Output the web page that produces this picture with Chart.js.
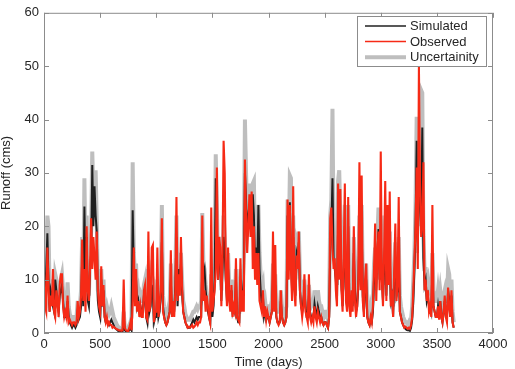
<!DOCTYPE html>
<html>
<head>
<meta charset="utf-8">
<script src="https://cdn.jsdelivr.net/npm/chart.js@4"></script>
<style>
html, body { margin: 0; padding: 0; background: #fff; }
#wrap { width: 515px; height: 369px; }
</style>
</head>
<body>
<div id="wrap"><canvas id="runoff-chart" width="515" height="369"></canvas></div>
<script>
// one value every 10 days, day 0 .. 3650
const stepDays = 10

const observed = [
    12, 5, 4, 16, 9, 4, 7, 5, 12, 4,
    3, 8, 6, 3, 9, 11, 11, 5, 3, 4,
    3, 7, 2, 2.5, 2, 1.5, 2, 2, 1.5, 2,
    6, 3, 4, 7, 17.5, 6, 12, 4, 20, 8,
    6, 12, 21.5, 12, 18, 14, 10, 19, 8, 5,
    4, 12.5, 5, 9, 3, 2, 3, 1.5, 2, 1.5,
    1.5, 1, 1.2, 1, 0.8, 0.7, 0.6, 0.5, 0.5, 0.4,
    0.5, 10, 1, 0.5, 0.4, 0.4, 1, 2, 0.5, 6,
    16, 5, 12, 4, 6, 3, 5, 3, 3, 8,
    9, 3, 2.5, 19, 4, 6, 16, 16.5, 2, 4,
    4, 16, 3, 5, 8, 21.5, 4, 3, 2, 1.5,
    2, 3, 4, 15.5, 3, 6, 3, 8, 25.5, 6,
    11, 7, 18, 9, 4, 3, 2, 1.5, 1, 1.2,
    1, 1.2, 1.5, 1, 1.2, 1.5, 2, 1.5, 2, 2,
    3, 22, 6, 8, 4, 7, 5, 3, 2, 23.5,
    4, 6, 8, 12, 31, 10, 18, 16, 5, 14,
    36, 30, 10, 5, 16, 6, 4, 9, 3, 5,
    4, 14, 3, 2.5, 2, 14, 4, 8, 4, 32.5,
    22, 15, 20, 26, 18, 26.5, 12, 20, 10, 15,
    9, 15, 6, 5, 4, 8, 3, 5, 2.5, 4,
    3, 2, 3, 4, 19, 4, 16.5, 3, 2, 1.5,
    2, 8, 3, 2, 1.5, 2, 3, 25, 10, 24,
    12, 6, 27.5, 8, 5, 14.5, 12, 19, 8, 5,
    3, 5, 11, 4, 3, 2, 11, 3, 2, 3,
    2, 5, 3, 2, 4, 3, 2, 3, 2, 1.5,
    2, 2, 1.5, 1, 3, 21.5, 23.5, 16, 12, 14,
    8, 5, 28, 10, 27, 8, 4, 14, 28, 6,
    4, 25.5, 5, 3, 8, 4, 20, 6, 3, 5,
    10, 32, 8, 29.5, 6, 3, 10, 13, 3, 2,
    1.5, 3, 2, 5, 12, 20.5, 6, 15, 19, 8,
    34, 10, 5, 15, 28.5, 6, 24, 9, 26.5, 5,
    8, 3, 12, 20.5, 6, 9, 25.5, 4, 3, 2,
    1.5, 1, 1.2, 1, 0.8, 1, 0.8, 1.5, 3, 8,
    14, 20, 31, 12, 50, 28, 18, 20, 32, 8,
    10, 6, 8, 4, 5, 3, 24, 5, 4, 3,
    3, 5, 2.5, 6, 3, 2, 4, 7, 3, 2,
    8.5, 5, 3, 8, 2, 1
]

const simulated = [
    3, 8, 12, 18.7, 10, 4, 8, 7, 5, 4,
    10, 8, 5, 4, 7, 8, 9, 6, 3, 3,
    3, 6, 3, 2, 1.5, 1, 1.5, 1.5, 1, 1.5,
    4, 2.5, 3, 5, 14, 5, 23.7, 10, 18, 6,
    5, 12, 15, 31.5, 20, 27.5, 22, 19, 6, 4,
    3, 10, 5, 8, 3, 2, 2.5, 2, 1.5, 2,
    2.5, 2, 1.5, 1, 0.8, 0.6, 0.4, 0.3, 0.2, 0.2,
    0.2, 3, 0.5, 0.3, 0.2, 0.3, 0.5, 1, 0.5, 23,
    12, 8, 10, 5, 6, 4, 5, 4, 4, 7,
    7, 3, 2, 8, 4, 5, 9, 7, 2, 3,
    3, 8, 3, 4, 7, 17, 5, 3, 2, 1.5,
    2, 3, 4, 10, 3, 6, 4, 9, 18, 5,
    12, 9, 13, 8, 4, 3, 2, 1.5, 1, 1,
    1, 1.5, 2, 2.5, 2, 2.5, 3, 2.5, 3, 3,
    3, 12, 11, 12, 8, 6, 4, 3, 2, 8,
    3, 5, 10, 29, 20, 10, 15, 14, 6, 12,
    18, 15, 10, 6, 12, 7, 5, 8, 4, 5,
    4, 10, 3, 2, 2, 10, 5, 7, 10, 30,
    25, 18, 22, 24, 20, 22, 26, 22, 12, 16,
    12, 24, 12, 8, 5, 7, 3, 4, 2.5, 3,
    3, 2, 3, 4, 10, 5, 9, 3, 2, 2,
    2, 6, 3, 2, 1.5, 2, 3, 22, 12, 24.5,
    14, 8, 18, 10, 7, 15, 14, 17, 8, 5,
    4, 6, 8, 5, 3, 3, 7, 4, 3, 3,
    3, 5.5, 4, 3, 5, 4, 3, 3, 2, 1.5,
    2, 2, 1.5, 1, 3, 15, 20, 29, 14, 12,
    10, 6, 20, 24, 18, 9, 5, 12, 20, 7,
    5, 20, 6, 4, 7, 5, 15, 8, 4, 5,
    9, 18, 10, 20, 7, 4, 8, 10, 3, 2,
    1.5, 2.5, 2, 4, 10, 12, 8, 15, 19.5, 10,
    18, 10, 6, 12, 18, 7, 14, 9, 15, 6,
    7, 3, 10, 14, 7, 8, 15, 4, 3, 2,
    1.5, 1, 0.8, 0.6, 0.5, 0.5, 0.4, 1, 2.5, 6,
    12, 20, 36, 15, 30, 25, 20, 38.5, 14, 9,
    10, 6, 7, 5, 5, 4, 12, 5, 4, 3,
    3, 5, 3, 6, 3, 2, 4, 6, 3, 3,
    8, 6, 3, 7, 2, 1
]

// upper bound of the uncertainty band
const uncertainty = [
    12, 10, 15, 22, 20, 8, 9, 8, 10, 6,
    11, 10, 7, 6, 9, 10, 11, 8, 5, 4,
    5, 9.5, 5, 3.5, 3, 2.5, 3, 3, 2.5, 3,
    6, 4, 5, 8, 18, 8, 29, 14, 22, 9,
    7, 15, 19, 34, 26, 29, 30.5, 21, 8, 6,
    5, 12, 7, 10, 5, 4, 5, 4, 3.5, 4,
    5, 4, 3, 2.5, 2, 1.5, 1.2, 1, 0.8, 0.8,
    0.8, 4, 1, 0.8, 0.8, 0.8, 1.5, 2, 3, 32,
    15, 11, 13, 7, 8, 6, 7, 6, 6, 9,
    10, 5, 4, 12, 6, 7, 11, 10, 4, 5,
    5, 10, 5, 6, 10, 24, 7, 5, 4, 3,
    3.5, 5, 6, 13, 5, 8, 6, 11, 22, 7,
    14, 11, 15, 10, 6, 5, 3.5, 3, 2.5, 2.5,
    2.5, 3, 3.5, 4, 4, 4.5, 5, 4.5, 5, 5,
    6, 22.5, 13, 12, 9, 7, 6, 5, 4, 11,
    5, 8, 13, 33.5, 24, 13, 18, 16, 8, 14,
    22, 18, 13, 9, 15, 9, 7, 10, 6, 7,
    6, 12, 5, 4, 4, 12, 7, 9, 14, 40,
    30, 22, 26, 28, 24, 26, 28, 28.5, 15, 18,
    15, 24, 15, 11, 8, 9, 5, 6, 4, 5,
    5, 4, 5, 6, 13, 7, 11, 5, 4, 4,
    4, 8, 5, 4, 3, 4, 5, 25, 16, 29.5,
    29, 12, 22, 13, 10, 17, 16, 19, 11, 7,
    6, 8, 10, 7, 5, 5, 9, 6, 5, 5.5,
    5.5, 8, 6, 5, 8, 6, 5, 5, 4, 3,
    4, 4, 3, 2.5, 5, 22, 25, 42, 18, 15,
    13, 9, 28.5, 30.5, 22, 12, 8, 15, 24, 10,
    8, 24, 9, 7, 10, 8, 18, 11, 6, 8,
    12, 22, 13, 24, 10, 6, 11, 13, 5, 4,
    3, 5, 4, 6, 13, 16, 11, 18, 23.5, 13,
    22, 13, 9, 15, 22, 10, 17, 12, 19, 9,
    10, 5, 12, 17, 9, 11, 18, 7, 5, 4,
    3, 2.5, 2, 2, 1.5, 2, 1.5, 2.5, 5, 10,
    15, 24, 40.5, 20, 36, 30, 45.5, 45, 18, 12,
    12, 9, 10, 8, 8, 7, 15, 8, 7, 6,
    6, 8, 6, 8, 6, 5, 7, 8, 6, 6,
    12, 11, 6, 10, 4, 2
]

const xTicks = [0, 500, 1000, 1500, 2000, 2500, 3000, 3500, 4000]
const yTicks = [0, 10, 20, 30, 40, 50, 60]

const RED = 'rgb(246, 42, 22)'
const BLACK = 'rgb(32, 32, 32)'
const GREY = 'rgb(190, 190, 190)'
const TEXT = '#262626'
const FONT = "'Liberation Sans', Arial, Helvetica, sans-serif"

function toPoints(values) {
    return values.map((v, i) => ({ x: i * stepDays, y: v }))
}

// matlab style box, inward ticks and legend
const axesBox = {
    id: 'axesBox',
    afterDatasetsDraw(chart) {
        const { ctx, chartArea: a, scales: { x, y } } = chart
        ctx.save()
        ctx.strokeStyle = '#8c8c8c'
        ctx.lineWidth = 1
        ctx.strokeRect(a.left + 0.5, a.top + 0.5, a.right - a.left - 1, a.bottom - a.top - 1)
        ctx.beginPath()
        x.ticks.forEach(t => {
            const px = Math.round(x.getPixelForValue(t.value)) + 0.5
            ctx.moveTo(px, a.bottom); ctx.lineTo(px, a.bottom - 5)
            ctx.moveTo(px, a.top); ctx.lineTo(px, a.top + 5)
        })
        y.ticks.forEach(t => {
            const py = Math.round(y.getPixelForValue(t.value)) + 0.5
            ctx.moveTo(a.left, py); ctx.lineTo(a.left + 5, py)
            ctx.moveTo(a.right, py); ctx.lineTo(a.right - 5, py)
        })
        ctx.stroke()

        // legend
        const items = [
            { label: 'Simulated', color: BLACK, width: 1.5 },
            { label: 'Observed', color: RED, width: 1.5 },
            { label: 'Uncertainity', color: GREY, width: 4 }
        ]
        ctx.fillStyle = '#fff'
        ctx.fillRect(357, 16, 130, 51)
        ctx.strokeStyle = '#8c8c8c'
        ctx.strokeRect(357.5, 16.5, 129, 50)
        ctx.font = '13px ' + FONT
        ctx.textBaseline = 'middle'
        items.forEach((item, i) => {
            const ly = 26 + i * 15.6
            ctx.beginPath()
            ctx.strokeStyle = item.color
            ctx.lineWidth = item.width
            ctx.moveTo(365, ly); ctx.lineTo(406, ly)
            ctx.stroke()
            ctx.fillStyle = TEXT
            ctx.fillText(item.label, 410, ly + 0.5)
        })
        ctx.restore()
    }
}

new Chart(document.querySelector('#runoff-chart').getContext('2d'), {
    type: 'line',
    data: {
        datasets: [
            { label: 'Observed', data: toPoints(observed), borderColor: RED, borderWidth: 2.1 },
            { label: 'Simulated', data: toPoints(simulated), borderColor: BLACK, borderWidth: 2 },
            { label: 'Uncertainity', data: toPoints(uncertainty), borderColor: GREY, borderWidth: 4 }
        ]
    },
    options: {
        responsive: false,
        animation: false,
        devicePixelRatio: 1,
        parsing: false,
        elements: { point: { radius: 0 }, line: { tension: 0, fill: false } },
        layout: { padding: { top: 10, right: 22, left: 0, bottom: 0 } },
        plugins: { legend: { display: false }, tooltip: { enabled: false } },
        scales: {
            x: {
                type: 'linear',
                min: 0,
                max: 4000,
                afterBuildTicks: s => { s.ticks = xTicks.map(v => ({ value: v })) },
                afterFit: s => { s.height = 36 },
                grid: { display: false, drawTicks: false },
                border: { display: false },
                ticks: { padding: 4, color: TEXT, font: { size: 13, family: FONT }, maxRotation: 0, autoSkip: false, callback: v => String(v) },
                title: { display: true, text: 'Time (days)', color: TEXT, font: { size: 13, family: FONT, lineHeight: 1 }, padding: 0 }
            },
            y: {
                min: 0,
                max: 60,
                afterBuildTicks: s => { s.ticks = yTicks.map(v => ({ value: v })) },
                afterFit: s => { s.width = 44 },
                grid: { display: false, drawTicks: false },
                border: { display: false },
                ticks: { padding: 5, color: TEXT, font: { size: 13, family: FONT }, callback: v => String(v) },
                title: { display: true, text: 'Runoff (cms)', color: TEXT, font: { size: 13, family: FONT, lineHeight: 1 }, padding: 0 }
            }
        }
    },
    plugins: [axesBox]
})
</script>
</body>
</html>
